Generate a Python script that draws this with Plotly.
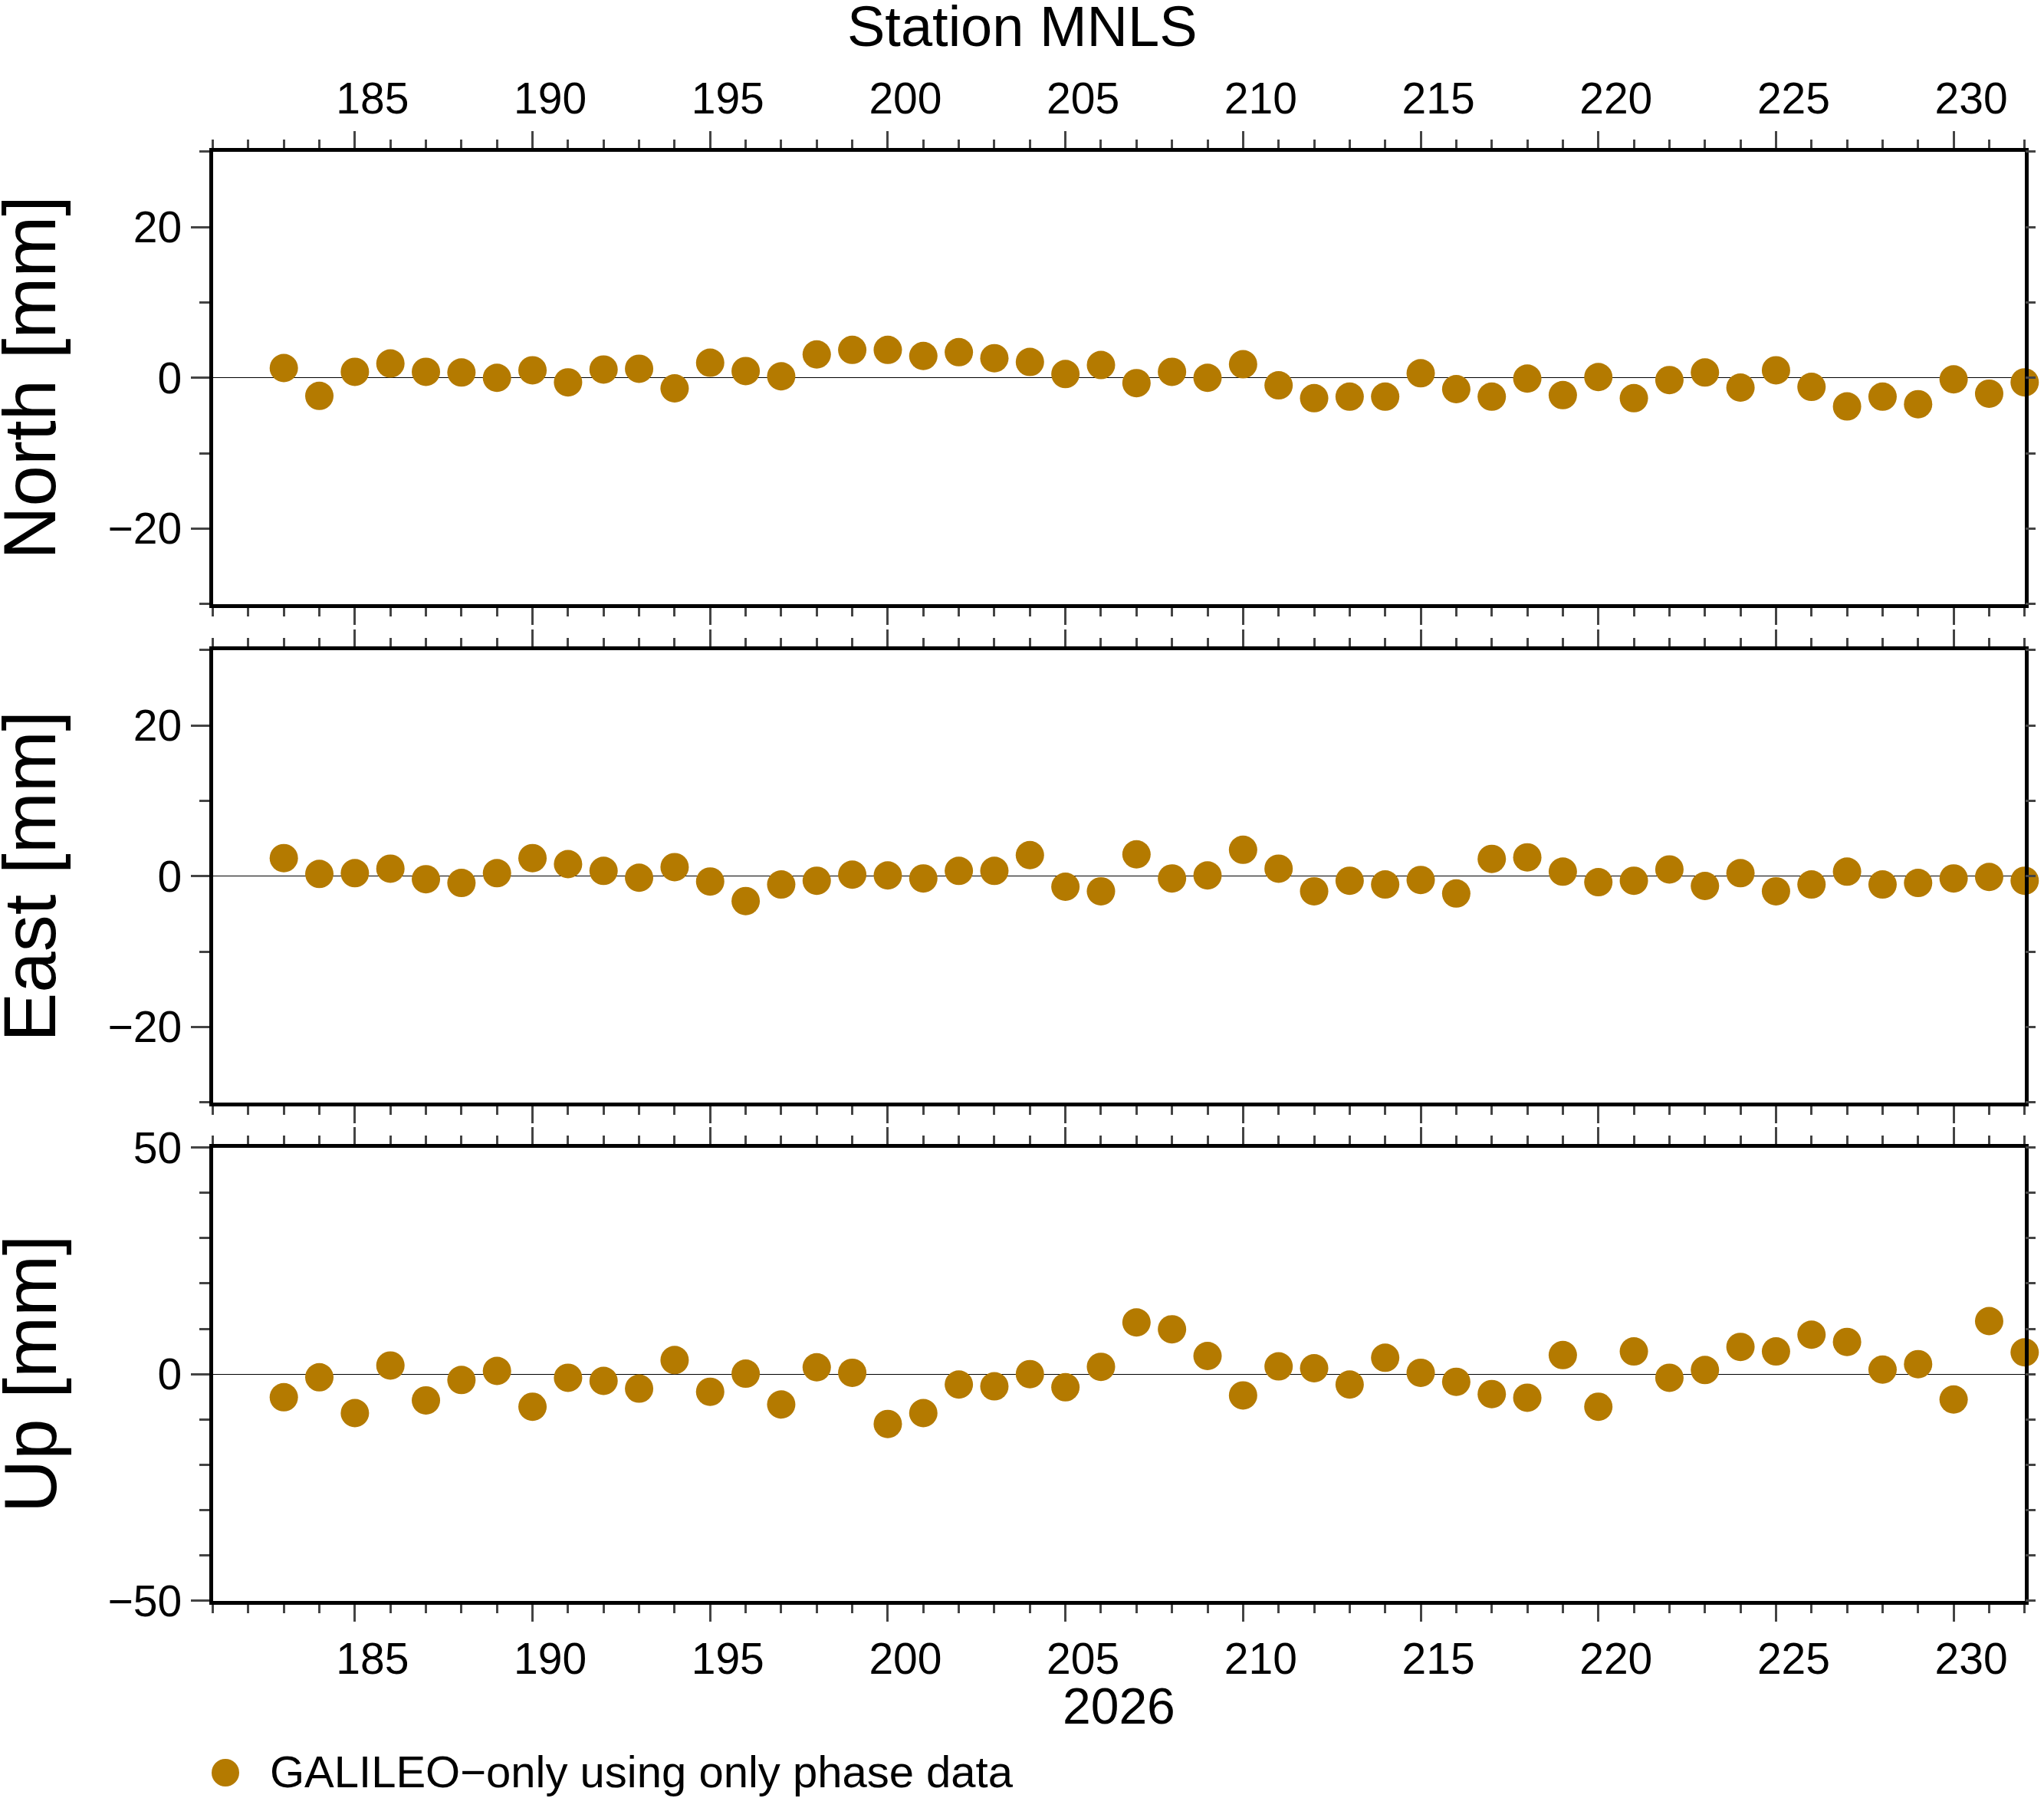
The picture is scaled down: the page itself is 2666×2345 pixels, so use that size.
import plotly.graph_objects as go

# day of year 2026
days = [183, 184, 185, 186, 187, 188, 189, 190, 191, 192,
        193, 194, 195, 196, 197, 198, 199, 200, 201, 202,
        203, 204, 205, 206, 207, 208, 209, 210, 211, 212,
        213, 214, 215, 216, 217, 218, 219, 220, 221, 222,
        223, 224, 225, 226, 227, 228, 229, 230, 231, 232]

# residuals in mm
north = [1.3, -2.4, 0.8, 1.9, 0.8, 0.7, 0.0, 1.0, -0.6, 1.1,
         1.2, -1.4, 2.0, 0.9, 0.2, 3.1, 3.7, 3.7, 2.9, 3.4,
         2.6, 2.1, 0.5, 1.7, -0.7, 0.8, 0.0, 1.8, -1.0, -2.7,
         -2.5, -2.5, 0.6, -1.5, -2.5, -0.1, -2.3, 0.1, -2.7, -0.3,
         0.7, -1.3, 1.0, -1.2, -3.8, -2.5, -3.5, -0.2, -2.1, -0.6]

east = [2.4, 0.3, 0.4, 1.0, -0.4, -0.9, 0.4, 2.4, 1.6, 0.7,
        -0.2, 1.2, -0.7, -3.3, -1.1, -0.6, 0.2, 0.1, -0.3, 0.7,
        0.7, 2.8, -1.4, -2.0, 2.9, -0.3, 0.1, 3.5, 1.0, -2.0,
        -0.6, -1.1, -0.5, -2.3, 2.3, 2.5, 0.6, -0.8, -0.6, 0.9,
        -1.3, 0.4, -2.0, -1.1, 0.6, -1.1, -0.9, -0.3, -0.1, -0.6]

up = [-5.1, -0.7, -8.6, 1.9, -5.8, -1.3, 0.7, -7.2, -0.8, -1.5,
      -3.2, 3.1, -3.9, 0.1, -6.7, 1.5, 0.3, -11.0, -8.6, -2.3,
      -2.7, 0.0, -2.9, 1.6, 11.4, 9.9, 4.0, -4.7, 1.7, 1.3,
      -2.3, 3.6, 0.3, -1.7, -4.4, -5.2, 4.2, -7.2, 5.0, -0.8,
      0.9, 6.0, 5.0, 8.7, 7.1, 1.0, 2.2, -5.6, 11.7, 4.8]

panels = ["North [mm]", "East [mm]", "Up [mm]"]
y_ranges = [[-30, 30], [-30, 30], [-50, 50]]
y_major = [20, 20, 50]
x_range = [181, 232]

W, H = 2666, 2345
FONT = "Liberation Sans"
COLOR = "#B47A00"

# panel frames in pixels (top, bottom)
frames = [(197.8, 787.7), (847.8, 1437.7), (1496.6, 2087.7)]
x_dom = [277.5 / W, 2640.8 / W]
day_px = (x_dom[1] - x_dom[0]) * W / (x_range[1] - x_range[0])

fig = go.Figure()

for i, vals in enumerate([north, east, up]):
    n = "" if i == 0 else str(i + 1)
    fig.add_trace(go.Scatter(
        x=days, y=vals, mode="markers",
        marker=dict(size=37, color=COLOR),
        xaxis="x" + n, yaxis="y" + n,
        cliponaxis=False, showlegend=False,
    ))

layout = dict(
    width=W, height=H,
    margin=dict(l=0, r=0, t=0, b=0, pad=0, autoexpand=False),
    paper_bgcolor="white", plot_bgcolor="white",
    font=dict(family=FONT, size=57, color="black"),
    showlegend=False,
)

for i in range(3):
    n = "" if i == 0 else str(i + 1)
    top, bot = frames[i]
    dom = [1 - bot / H, 1 - top / H]
    layout["xaxis" + n] = dict(
        domain=x_dom, anchor="y" + n, range=x_range, automargin=False,
        side="top" if i == 0 else "bottom",
        showticklabels=(i != 1),
        # day labels sit in the middle of the day interval
        ticklabelshift=round(day_px / 2),
        dtick=5, tick0=0, ticks="outside", ticklen=22, tickwidth=2.5,
        minor=dict(dtick=1, ticks="outside", ticklen=11, tickwidth=2.5),
        showline=True, linewidth=5, linecolor="black", mirror="ticks",
        showgrid=False, zeroline=False,
        tickfont=dict(family=FONT, size=57),
        **({} if i == 0 else dict(matches="x")),
    )
    layout["yaxis" + n] = dict(
        domain=dom, anchor="x" + n, range=y_ranges[i], automargin=False,
        dtick=y_major[i], ticks="outside", ticklen=24, tickwidth=2.5,
        minor=dict(dtick=10, ticks="outside", ticklen=13, tickwidth=2.5),
        showline=True, linewidth=5, linecolor="black", mirror=True,
        showgrid=False, zeroline=True, zerolinecolor="black", zerolinewidth=1.2,
        tickfont=dict(family=FONT, size=57),
    )
    # short ticks on the right side of each frame
    layout["yaxis" + str(i + 4)] = dict(
        domain=dom, anchor="x" + n, overlaying="y" + n, side="right",
        range=y_ranges[i], dtick=10, ticks="outside", ticklen=13, tickwidth=2.5,
        showticklabels=False, showline=False, showgrid=False, zeroline=False,
        automargin=False,
    )

annotations = [
    dict(text="Station MNLS", x=0.5, y=1 - 34 / H, xref="paper", yref="paper",
         xanchor="center", yanchor="middle", showarrow=False,
         font=dict(family=FONT, size=74)),
    dict(text="2026", x=(x_dom[0] + x_dom[1]) / 2, y=1 - 2225 / H,
         xref="paper", yref="paper", xanchor="center", yanchor="middle",
         showarrow=False, font=dict(family=FONT, size=66)),
    dict(text="GALILEO\u2212only using only phase data", x=350 / W, y=1 - 2310 / H,
         xref="paper", yref="paper", xanchor="left", yanchor="middle",
         showarrow=False, font=dict(family=FONT, size=58)),
]
for i, label in enumerate(panels):
    top, bot = frames[i]
    annotations.append(dict(
        text=label, x=39 / W, y=1 - (top + bot) / 2 / H, xref="paper", yref="paper",
        xanchor="center", yanchor="middle", textangle=-90, showarrow=False,
        font=dict(family=FONT, size=96)))
layout["annotations"] = annotations

# legend swatch
layout["shapes"] = [dict(
    type="circle", xref="paper", yref="paper",
    x0=276 / W, x1=312 / W, y0=1 - 2330 / H, y1=1 - 2294 / H,
    fillcolor=COLOR, line=dict(width=0),
)]

fig.update_layout(**layout)

# empty traces so the right-side tick axes get drawn
for i in range(3):
    n = "" if i == 0 else str(i + 1)
    fig.add_trace(go.Scatter(x=[], y=[], xaxis="x" + n, yaxis="y" + str(i + 4),
                             showlegend=False, hoverinfo="skip"))

fig.write_html("out.html", config={"displayModeBar": False},
               post_script="document.body.style.margin='0';")
